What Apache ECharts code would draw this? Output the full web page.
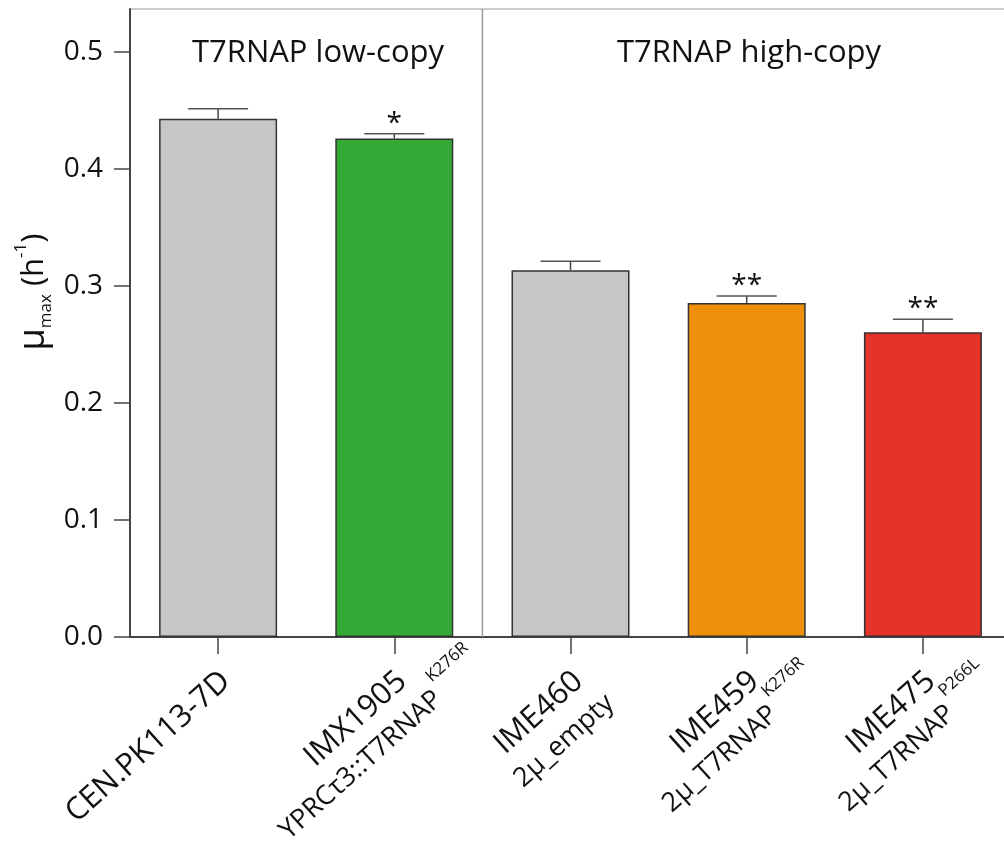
<!DOCTYPE html>
<html><head><meta charset="utf-8">
<script src="https://cdn.jsdelivr.net/npm/echarts@6/dist/echarts.min.js"></script>
<style>html,body{margin:0;padding:0;background:#fff}#c{width:1004px;height:851px}</style>
</head><body><div id="c"></div>
<script>
// ---- data ----
const categories = ['CEN.PK113-7D', 'IMX1905', 'IME460', 'IME459', 'IME475'];
const subLines = ['', 'YPRCτ3::T7RNAP', '2μ_empty', '2μ_T7RNAP', '2μ_T7RNAP'];
const superscripts = ['', 'K276R', '', 'K276R', 'P266L'];
const muMax = [0.443, 0.426, 0.3135, 0.2855, 0.2605];
const errors = [0.0085, 0.0042, 0.0077, 0.006, 0.011];
const stars = ['', '*', '', '**', '**'];
const barColors = ['#c6c6c6', '#35a935', '#c6c6c6', '#ef900b', '#e3332a'];
const yTicks = [0, 0.1, 0.2, 0.3, 0.4, 0.5];
const groupTitles = ['T7RNAP low-copy', 'T7RNAP high-copy'];
const groupSplitAfter = 1; // divider between category 1 and 2

const FONT = '"Open Sans", sans-serif';
const LABEL_SIZE = 31, SUB_SIZE = 27, SUP_SIZE = 17;
const ROT = 42 * Math.PI / 180;
const mctx = document.createElement('canvas').getContext('2d');
function tw(t, size) { mctx.font = size + 'px ' + FONT; return mctx.measureText(t).width; }

const chart = echarts.init(document.getElementById('c'));
chart.setOption({
  animation: false,
  textStyle: { fontFamily: FONT },
  grid: { left: 130, top: 9, width: 881, height: 628, containLabel: false, outerBoundsMode: 'none',
          show: true, borderColor: '#9a9a9a', borderWidth: 1, backgroundColor: 'transparent' },
  xAxis: {
    type: 'category', data: categories, boundaryGap: true,
    axisLine: { show: true, lineStyle: { color: '#444', width: 2 } },
    axisTick: { show: true, interval: 0, alignWithLabel: true, length: 17, lineStyle: { color: '#444', width: 1.5 } },
    splitLine: { show: false },
    axisLabel: { show: false, interval: 0 }
  },
  yAxis: {
    type: 'value', min: 0, max: 0.5368, interval: 0.1,
    axisLine: { show: true, lineStyle: { color: '#444', width: 2 } },
    axisTick: { show: true, length: 16, customValues: yTicks, lineStyle: { color: '#444', width: 1.5 } },
    splitLine: { show: false },
    axisLabel: { customValues: yTicks, margin: 27, fontSize: 28, color: '#111', fontFamily: FONT, formatter: v => v.toFixed(1) }
  },
  graphic: [
    { type: 'text', x: 318, y: 53, style: { text: groupTitles[0], fontSize: 31, fontFamily: FONT, fill: '#111', align: 'center', verticalAlign: 'middle' } },
    { type: 'text', x: 749, y: 53, style: { text: groupTitles[1], fontSize: 31, fontFamily: FONT, fill: '#111', align: 'center', verticalAlign: 'middle' } },
    { type: 'text', x: 34, y: 292, rotation: Math.PI / 2, style: {
      text: '{mu|μ}{sub|max}{n| (h}{sup|-1}{n|)}', align: 'center', verticalAlign: 'middle', fill: '#111',
      rich: {
        mu: { fontSize: 36, lineHeight: 42, fontFamily: FONT, fill: '#111' },
        sub: { fontSize: 17, lineHeight: 17, verticalAlign: 'bottom', fontFamily: FONT, fill: '#111' },
        n: { fontSize: 31, lineHeight: 42, fontFamily: FONT, fill: '#111' },
        sup: { fontSize: 17, lineHeight: 17, verticalAlign: 'top', fontFamily: FONT, fill: '#111' }
      } } }
  ],
  series: [
    {
      type: 'bar', barWidth: 118,
      data: muMax.map((v, i) => ({ value: v, itemStyle: { color: barColors[i] } })),
      itemStyle: { borderColor: '#333', borderWidth: 1.5 }
    },
    {
      type: 'custom', z: 5, clip: false,
      data: muMax.map((v, i) => [i, v, errors[i]]),
      renderItem: (params, api) => {
        const idx = params.dataIndex;
        const i = api.value(0);
        const top = api.coord([i, api.value(1)]);
        const up = api.coord([i, api.value(1) + api.value(2)]);
        const base = api.coord([i, 0]);
        const children = [
          { type: 'line', shape: { x1: top[0], y1: top[1], x2: up[0], y2: up[1] }, style: { stroke: '#444', lineWidth: 1.5 } },
          { type: 'line', shape: { x1: up[0] - 30, y1: up[1], x2: up[0] + 30, y2: up[1] }, style: { stroke: '#555', lineWidth: 1.5 } }
        ];
        const st = stars[idx];
        if (st) children.push({ type: 'text', x: up[0], y: up[1] - 10, style: { text: st, fontSize: 28, fontFamily: FONT, fill: '#111', align: 'center', verticalAlign: 'middle' } });
        if (idx === groupSplitAfter) {
          const cs = params.coordSys;
          const xm = (base[0] + api.coord([i + 1, 0])[0]) / 2;
          children.push({ type: 'line', z2: -1, shape: { x1: xm, y1: cs.y, x2: xm, y2: cs.y + cs.height }, style: { stroke: '#9a9a9a', lineWidth: 1.5 } });
        }
        // category label (rotated, two lines, second line centred under the first)
        const name = categories[idx];
        const w1 = tw(name, LABEL_SIZE);
        const labelChildren = [
          { type: 'text', x: 0, y: 0, style: { text: name, fontSize: LABEL_SIZE, fontFamily: FONT, fill: '#111', align: 'right', verticalAlign: 'middle' } }
        ];
        if (subLines[idx]) {
          const w2 = tw(subLines[idx], SUB_SIZE);
          const gap = 4;
          const ws = superscripts[idx] ? tw(superscripts[idx], SUP_SIZE) + gap : 0;
          const x0 = -w1 / 2 - (w2 + ws) / 2;
          labelChildren.push({ type: 'text', x: x0, y: 38, style: { text: subLines[idx], fontSize: SUB_SIZE, fontFamily: FONT, fill: '#111', align: 'left', verticalAlign: 'middle' } });
          if (superscripts[idx]) labelChildren.push({ type: 'text', x: x0 + w2 + gap, y: 19, style: { text: superscripts[idx], fontSize: SUP_SIZE, fontFamily: FONT, fill: '#111', align: 'left', verticalAlign: 'middle' } });
        }
        children.push({ type: 'group', x: base[0] + 8, y: base[1] + 40, rotation: ROT, children: labelChildren });
        return { type: 'group', children };
      }
    }
  ]
});
</script></body></html>
